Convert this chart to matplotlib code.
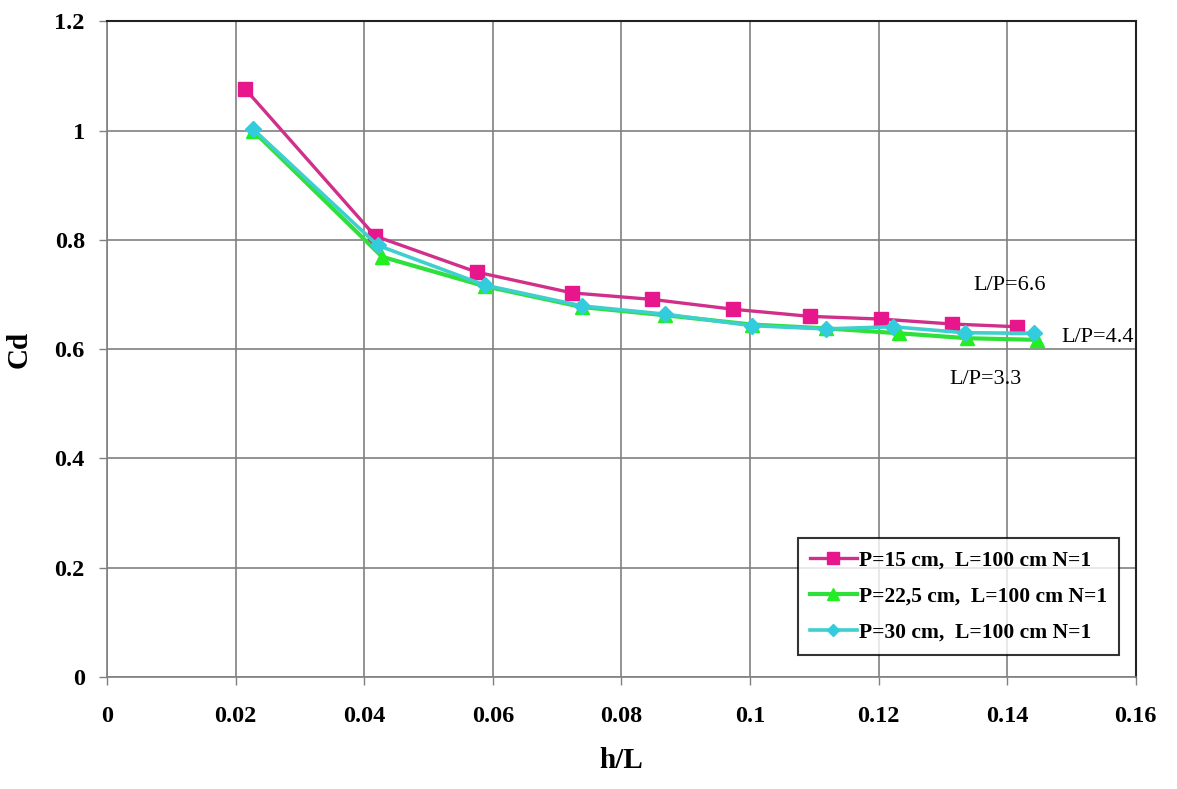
import matplotlib
matplotlib.use("Agg")
import matplotlib.pyplot as plt

# Data
x_p15 = [0.0215, 0.0417, 0.0575, 0.0723, 0.0848, 0.0974, 0.1093, 0.1204, 0.1314, 0.1415]
y_p15 = [1.076, 0.807, 0.741, 0.703, 0.691, 0.673, 0.660, 0.655, 0.646, 0.641]

x_p225 = [0.0227, 0.0428, 0.0588, 0.0739, 0.0868, 0.1003, 0.1118, 0.1232, 0.1338, 0.1447]
y_p225 = [1.000, 0.769, 0.715, 0.677, 0.662, 0.645, 0.638, 0.629, 0.620, 0.617]

x_p30 = [0.0227, 0.0421, 0.0588, 0.0739, 0.0868, 0.1003, 0.1118, 0.1222, 0.1334, 0.1442]
y_p30 = [1.003, 0.790, 0.717, 0.679, 0.664, 0.643, 0.637, 0.641, 0.630, 0.629]

labels = ["P=15 cm,  L=100 cm N=1", "P=22,5 cm,  L=100 cm N=1", "P=30 cm,  L=100 cm N=1"]
x_ticks = [0, 0.02, 0.04, 0.06, 0.08, 0.1, 0.12, 0.14, 0.16]
x_tick_labels = ["0", "0.02", "0.04", "0.06", "0.08", "0.1", "0.12", "0.14", "0.16"]
y_ticks = [0, 0.2, 0.4, 0.6, 0.8, 1.0, 1.2]
y_tick_labels = ["0", "0.2", "0.4", "0.6", "0.8", "1", "1.2"]
annotations = [("L/P=6.6", 0.1404, 0.717), ("L/P=4.4", 0.1541, 0.621), ("L/P=3.3", 0.1366, 0.545)]

plt.rcParams['font.family'] = ['Liberation Serif', 'DejaVu Serif']

fig = plt.figure(figsize=(11.77, 7.89), dpi=100)
ax = fig.add_axes([0.0909, 0.142, 0.874, 0.831])

ax.plot(x_p15, y_p15, color='#D0308A', lw=2.4, marker='s', ms=10,
        mfc='#E8168C', mec='#E8168C', label=labels[0], zorder=3)
ax.plot(x_p225, y_p225, color='#2EE03A', lw=3.0, marker='^', ms=10,
        mfc='#22EE22', mec='#22EE22', label=labels[1], zorder=3)
ax.plot(x_p30, y_p30, color='#3FCFCF', lw=2.6, marker='D', ms=8,
        mfc='#33CCDD', mec='#33CCDD', label=labels[2], zorder=4)

ax.set_xlim(0, 0.16)
ax.set_ylim(0, 1.2)
ax.set_xticks(x_ticks)
ax.set_xticklabels(x_tick_labels)
ax.set_yticks(y_ticks)
ax.set_yticklabels(y_tick_labels)
ax.tick_params(axis='both', labelsize=17.5, length=6, width=1, color='#808080', direction='out')
for lab in ax.get_xticklabels() + ax.get_yticklabels():
    lab.set_fontweight('bold')
ax.tick_params(axis='x', pad=15)
ax.tick_params(axis='y', pad=10)

ax.grid(True, color='#808080', lw=1.2)
ax.set_axisbelow(True)
for s in ['left', 'bottom']:
    ax.spines[s].set_color('#808080')
    ax.spines[s].set_linewidth(1.2)
for s in ['top', 'right']:
    ax.spines[s].set_color('#222222')
    ax.spines[s].set_linewidth(1.5)

ax.set_xlabel("h/L", fontsize=21, fontweight='bold', labelpad=14)
ax.set_ylabel("Cd", fontsize=21, fontweight='bold', labelpad=16)

for txt, xx, yy in annotations:
    ax.text(xx, yy, txt, fontsize=16, ha='center', va='center', clip_on=False)

leg = ax.legend(loc='lower right', bbox_to_anchor=(0.984, 0.034),
                prop={'size': 15.5, 'weight': 'bold'}, frameon=True, fancybox=False,
                edgecolor='black', handlelength=2.2, handletextpad=0.1,
                borderpad=0.55, labelspacing=0.75, markerscale=0.8,
                borderaxespad=0)
leg.get_frame().set_linewidth(1.5)

fig.savefig("out.png", dpi=100)
